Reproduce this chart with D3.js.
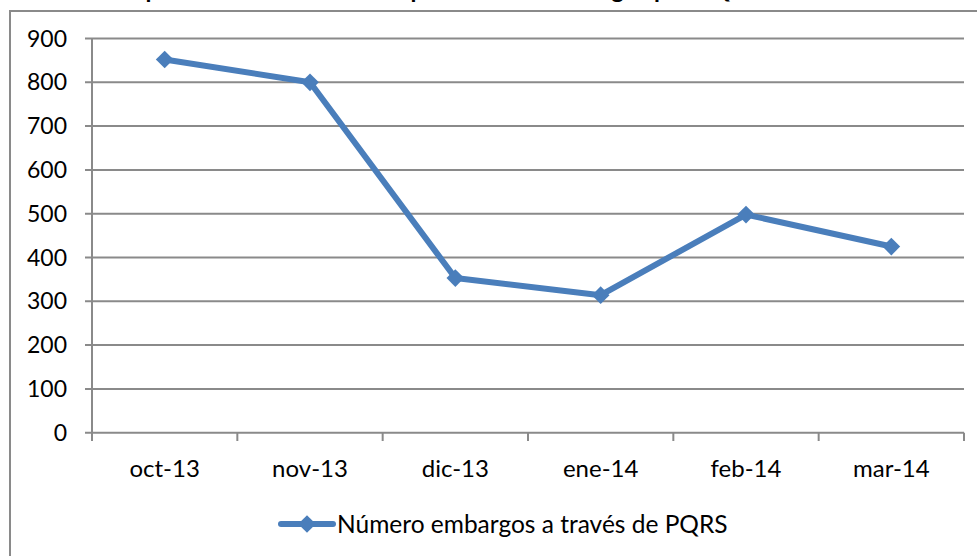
<!DOCTYPE html>
<html><head><meta charset="utf-8">
<script src="https://cdn.jsdelivr.net/npm/d3@7"></script>
<style>html,body{margin:0;padding:0;background:#fff;overflow:hidden}</style>
</head><body>
<script>
const categories = ["oct-13","nov-13","dic-13","ene-14","feb-14","mar-14"];
const values = [852, 800, 353, 314, 498, 425];
const yTicks = [0,100,200,300,400,500,600,700,800,900];
const seriesName = "Número embargos a través de PQRS";
const titleText = "Comportamiento mensual de procesos de embargos por PQRS";

const W = 977, H = 556;
const svg = d3.select("body").append("svg").attr("width", W).attr("height", H);
const font = "Lato, 'Open Sans', sans-serif";
const blue = "#4a7ebb", gray = "#8a8a8a";

// chart frame (extends past the window edges)
svg.append("rect").attr("x",10).attr("y",11).attr("width",1000).attr("height",600)
  .attr("fill","none").attr("stroke",gray).attr("stroke-width",2);

// title, cut off by the top edge as in the reference
svg.append("text").attr("x",96).attr("y",-2).attr("text-anchor","start")
  .attr("font-family",font).attr("font-weight","bold").attr("font-size",24)
  .attr("fill","#000").text(titleText);

const x = d3.scaleBand().domain(categories).range([92,964]);
const y = d3.scaleLinear().domain([0,900]).range([432.7,38.5]);

// gridlines
svg.append("g").selectAll("line").data(yTicks).join("line")
  .attr("x1",85).attr("x2",964).attr("y1",d=>y(d)).attr("y2",d=>y(d))
  .attr("stroke",gray).attr("stroke-width",2);

// y axis line
svg.append("line").attr("x1",92).attr("x2",92).attr("y1",y(900)).attr("y2",441)
  .attr("stroke",gray).attr("stroke-width",2);

// x ticks at category boundaries
const bounds = categories.map(c=>x(c)).concat([x.range()[1]]);
svg.append("g").selectAll("line").data(bounds).join("line")
  .attr("x1",d=>d).attr("x2",d=>d).attr("y1",y(0)).attr("y2",441)
  .attr("stroke",gray).attr("stroke-width",2);

// y labels
svg.append("g").selectAll("text").data(yTicks).join("text")
  .attr("x",67).attr("y",d=>y(d)+8).attr("text-anchor","end")
  .attr("font-family",font).attr("font-size",23).attr("fill","#000").text(d=>d);

// x labels
svg.append("g").selectAll("text").data(categories).join("text")
  .attr("x",d=>x(d)+x.bandwidth()/2).attr("y",477).attr("text-anchor","middle")
  .attr("font-family",font).attr("font-size",24).attr("fill","#000").text(d=>d);

// line
const cx = (d,i)=>x(categories[i])+x.bandwidth()/2;
svg.append("path").datum(values)
  .attr("d", d3.line().x(cx).y(d=>y(d)))
  .attr("fill","none").attr("stroke",blue).attr("stroke-width",6).attr("stroke-linejoin","round");

const sq = d3.symbol().type(d3.symbolSquare).size(156)();
svg.append("g").selectAll("path").data(values).join("path")
  .attr("d", sq)
  .attr("transform",(d,i)=>`translate(${cx(d,i)},${y(d)}) rotate(45)`)
  .attr("fill",blue);

// legend
const lg = svg.append("g");
lg.append("line").attr("x1",281).attr("x2",333).attr("y1",524).attr("y2",524)
  .attr("stroke",blue).attr("stroke-width",6).attr("stroke-linecap","round");
lg.append("path").attr("d", sq)
  .attr("transform","translate(307,524) rotate(45)").attr("fill",blue);
lg.append("text").attr("x",337).attr("y",533).attr("font-family",font).attr("font-size",24.5)
  .attr("fill","#000").text(seriesName);
</script>
</body></html>
